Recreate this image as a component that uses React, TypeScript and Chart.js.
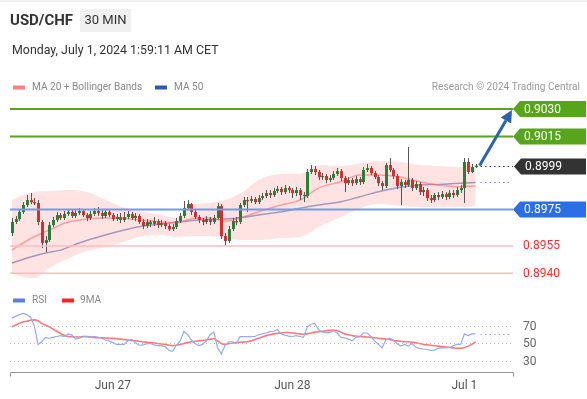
import React, { useEffect, useRef } from "react";
import { Chart, registerables } from "chart.js";
Chart.register(...registerables);

const TITLE = "USD/CHF";
const TIMEFRAME = "30 MIN";
const DATE_TEXT = "Monday, July 1, 2024 1:59:11 AM CET";
const SOURCE = "Research © 2024 Trading Central";
const LEGEND_TOP = ["MA 20 + Bollinger Bands", "MA 50"];
const LEGEND_RSI = ["RSI", "9MA"];

const OPEN = [0.8962,0.89681,0.89697,0.89736,0.89774,0.89801,0.8979,0.89785,0.89681,0.89566,0.89582,0.89664,0.89692,0.89719,0.89703,0.89725,0.89736,0.89714,0.8973,0.89741,0.89719,0.89703,0.89725,0.89741,0.8973,0.89714,0.89736,0.89719,0.89697,0.89708,0.89692,0.89708,0.89725,0.89703,0.89714,0.89681,0.89659,0.89681,0.8967,0.89686,0.89664,0.89675,0.89659,0.89642,0.89653,0.89686,0.89714,0.89757,0.89779,0.89736,0.89708,0.89692,0.89681,0.89697,0.89681,0.89703,0.89768,0.89604,0.89577,0.89642,0.89686,0.89681,0.89774,0.89801,0.89796,0.89807,0.8979,0.89812,0.89823,0.8984,0.89829,0.89851,0.89862,0.89845,0.89867,0.89856,0.8984,0.89856,0.89829,0.89823,0.89955,0.89971,0.89955,0.89927,0.89933,0.89911,0.89922,0.89944,0.8996,0.89922,0.89894,0.89911,0.89894,0.89916,0.899,0.89966,0.89977,0.89949,0.89927,0.89894,0.89878,0.89993,0.89966,0.89933,0.89878,0.899,0.89884,0.89911,0.89867,0.89889,0.89845,0.89856,0.89812,0.89801,0.89829,0.89818,0.89834,0.89818,0.8984,0.89829,0.89856,0.89867,0.9001,0.89955,0.89982];
const HIGH = [0.89703,0.89714,0.89752,0.8979,0.89829,0.8984,0.89812,0.89801,0.89692,0.89604,0.89681,0.89708,0.89736,0.8973,0.89741,0.89752,0.89747,0.89747,0.89757,0.89752,0.8973,0.89741,0.89757,0.89763,0.89747,0.89752,0.89747,0.8973,0.89725,0.8973,0.89736,0.89741,0.89736,0.8973,0.89725,0.89697,0.89697,0.89692,0.89708,0.89697,0.89692,0.89686,0.8967,0.8967,0.89703,0.8973,0.89796,0.89801,0.89785,0.89747,0.89719,0.89703,0.89714,0.89708,0.89719,0.89785,0.89779,0.8962,0.89659,0.89703,0.89708,0.89785,0.89818,0.89818,0.89823,0.89818,0.89829,0.8984,0.89856,0.89856,0.89867,0.89878,0.89873,0.89884,0.89878,0.89867,0.89873,0.89867,0.89845,0.89971,0.89993,0.89988,0.89966,0.89949,0.89944,0.89938,0.8996,0.89977,0.89971,0.89933,0.89927,0.89922,0.89933,0.89927,0.89982,0.89999,0.89988,0.8996,0.89938,0.89905,0.90004,0.90031,0.89977,0.89944,0.89916,0.89911,0.90092,0.89922,0.89905,0.899,0.89873,0.89867,0.89829,0.8984,0.89845,0.89851,0.89845,0.89856,0.89856,0.89873,0.89884,0.90031,0.90031,0.89999,0.89999];
const LOW = [0.89604,0.8967,0.89686,0.89725,0.89763,0.89779,0.89774,0.89664,0.89538,0.89516,0.89571,0.89653,0.89681,0.89692,0.89692,0.89714,0.89703,0.89703,0.89719,0.89708,0.89686,0.89692,0.89714,0.89714,0.89697,0.89703,0.89708,0.89686,0.89686,0.89675,0.89681,0.89697,0.89692,0.89686,0.8967,0.89642,0.89648,0.89653,0.89659,0.89648,0.89653,0.89642,0.89631,0.89631,0.89642,0.89675,0.89703,0.89747,0.89719,0.89697,0.89675,0.89664,0.8967,0.89664,0.8967,0.89697,0.89588,0.89549,0.89566,0.89631,0.89664,0.8967,0.89763,0.89736,0.89785,0.89779,0.89779,0.89801,0.89812,0.89812,0.89818,0.8984,0.89829,0.89834,0.8984,0.89812,0.89823,0.89801,0.8979,0.89812,0.89944,0.89938,0.89911,0.89911,0.89894,0.899,0.89911,0.89933,0.89905,0.89845,0.89884,0.89878,0.89884,0.89884,0.89889,0.89955,0.89938,0.89916,0.89878,0.89856,0.89867,0.89955,0.89916,0.89862,0.89774,0.89867,0.89873,0.89851,0.89856,0.89829,0.89823,0.89796,0.89785,0.8979,0.89801,0.89807,0.89801,0.89807,0.89812,0.89818,0.8984,0.89785,0.89944,0.89949,0.89977];
const CLOSE = [0.89681,0.89697,0.89736,0.89774,0.89801,0.8979,0.89785,0.89681,0.89566,0.89582,0.89664,0.89692,0.89719,0.89703,0.89725,0.89736,0.89714,0.8973,0.89741,0.89719,0.89703,0.89725,0.89741,0.8973,0.89714,0.89736,0.89719,0.89697,0.89708,0.89692,0.89708,0.89725,0.89703,0.89714,0.89681,0.89659,0.89681,0.8967,0.89686,0.89664,0.89675,0.89659,0.89642,0.89653,0.89686,0.89714,0.89757,0.89779,0.89736,0.89708,0.89692,0.89681,0.89697,0.89681,0.89703,0.89768,0.89604,0.89577,0.89642,0.89686,0.89681,0.89774,0.89801,0.89796,0.89807,0.8979,0.89812,0.89823,0.8984,0.89829,0.89851,0.89862,0.89845,0.89867,0.89856,0.8984,0.89856,0.89829,0.89823,0.89955,0.89971,0.89955,0.89927,0.89933,0.89911,0.89922,0.89944,0.8996,0.89922,0.89894,0.89911,0.89894,0.89916,0.899,0.89966,0.89977,0.89949,0.89927,0.89894,0.89878,0.89993,0.89966,0.89933,0.89878,0.899,0.89884,0.89911,0.89867,0.89889,0.89845,0.89856,0.89812,0.89801,0.89829,0.89818,0.89834,0.89818,0.8984,0.89829,0.89856,0.89867,0.9001,0.89955,0.89982,0.8999];

const MA20_IDX = [0,3,6,9,12,14,18,24,29,34,40,44,48,53,57,61,66,72,77,82,88,93,98,104,109,114,120,124];
const MA20_VAL = [0.89527,0.89566,0.896,0.89628,0.89655,0.89674,0.89692,0.89703,0.89703,0.89692,0.89681,0.89678,0.89697,0.89703,0.89686,0.89703,0.89737,0.89774,0.89801,0.89867,0.89902,0.89938,0.89938,0.89926,0.89902,0.89884,0.89874,0.89878];
const MA50_IDX = [0,5,9,13,18,24,30,34,40,45,50,56,62,66,72,77,82,88,93,98,104,109,114,120,124];
const MA50_VAL = [0.89456,0.89489,0.89511,0.89527,0.89566,0.89604,0.89637,0.89655,0.8967,0.89682,0.89692,0.89696,0.89707,0.89719,0.89737,0.89756,0.89774,0.89792,0.89819,0.89847,0.89871,0.89884,0.89887,0.89893,0.89898];
const BB_IDX = [0,3,6,10,16,21,24,29,34,40,44,48,53,57,62,66,72,77,80,82,88,94,98,104,109,114,120,124];
const BB_UPPER = [0.89801,0.89829,0.89845,0.89851,0.89856,0.8984,0.89812,0.89768,0.89741,0.89719,0.89703,0.89774,0.89785,0.89801,0.8985,0.89911,0.89944,0.89944,0.89977,0.89993,0.89988,0.90004,0.90015,0.9001,0.89993,0.89988,0.89982,0.89993];
const BB_LOWER = [0.89401,0.89379,0.89374,0.89429,0.89489,0.89527,0.89538,0.89566,0.89599,0.8961,0.89599,0.89604,0.89604,0.89593,0.89582,0.89582,0.89593,0.89599,0.89626,0.89653,0.89708,0.89763,0.89779,0.89768,0.89763,0.89763,0.89763,0.89768];

const RSI = [79,81,83,84.5,83,80,70,49,52,57,56,57,58,59,58,61,60,55,56,58,58,57,58,57,56,54,53,51,49,49,49,53,55,51,48,48.5,49.5,50,48.5,47.5,47.5,46.5,42,41,48,53,64,60,54,50,47.5,49,53,60,63,45,38,48,52,52,50,57.8,57.8,57.5,57.8,58,60,61,62,63.5,64,66,61,59.5,58.5,58,59,58,57,69,72,73,66,63,62.5,62.5,64.5,62,57,56.5,55,53,57,57.8,62,62,58,53,49,45,54,56,54,50,47,49,47,50,46,44.5,43.7,43.3,42,42.5,44.5,45.2,45,45.5,47.5,49,49,61,59,61,61];
const RSI_MA = [69,71,73,74.5,75.5,76.5,77,76,73,71,69,66.5,64,61.5,59.5,58,57.8,57.5,57.5,57.8,57.8,57.5,57,56.7,56.5,56.3,56,55.8,55.5,55,54.5,54,53.5,53,52.5,52,51.5,51,50.5,50,49.5,49,48,47.5,48,49,50,51,52,52.5,53,53.5,54,55,55.5,53,50,49,50,50.5,51,51.4,51.7,52,53,54.5,56,57.5,59,60,61,61.6,62,62.5,62.5,62,61.5,61,60.5,61,62,63,63.5,64,64.5,65,65.4,64.5,63,61,60,59,58.5,58,57.8,57.5,57,56.5,56,55.5,55,54.5,53.5,53,52.5,52,52,51.5,51,50,49,48.5,48,47.5,47,46.4,46,45.5,45,44.5,44.5,45.5,47,49,52];
const RSI_LEVELS = [70, 50, 30];

const DATE_LABELS = ["Jun 27", "Jun 28", "Jul 1"];
const DATE_INDEX = [27, 75, 121];

const RESIST = [0.903, 0.9015];
const SUPPORT_PIVOT = 0.8975;
const SUPPORT = [0.8955, 0.894];
const LAST_PRICE = 0.8999;
const TARGET = 0.903;

const X_RANGE = [-0.5, 134];
const PRICE_RANGE = [0.88848, 0.90377];
const RSI_RANGE = [15.14, 334];

const FONT = 'Roboto, "Liberation Sans", Arial, sans-serif';

function fmt(v: number) {
  return v.toFixed(4);
}

function notchBox(ctx: CanvasRenderingContext2D, xTip: number, y: number, right: number, h: number, color: string) {
  const n = 7;
  ctx.beginPath();
  ctx.moveTo(xTip, y);
  ctx.lineTo(xTip + n, y - h / 2);
  ctx.lineTo(right, y - h / 2);
  ctx.lineTo(right, y + h / 2);
  ctx.lineTo(xTip + n, y + h / 2);
  ctx.closePath();
  ctx.fillStyle = color;
  ctx.fill();
}

const candlePlugin = {
  id: "candles",
  afterDatasetsDraw(chart: any) {
    const ctx: CanvasRenderingContext2D = chart.ctx;
    const xs = chart.scales.x;
    const ys = chart.scales.y;
    const a = chart.chartArea;
    ctx.save();
    ctx.beginPath();
    ctx.rect(a.left, a.top, a.right - a.left, a.bottom - a.top);
    ctx.clip();
    for (let i = 0; i < CLOSE.length; i++) {
      const x = Math.round(xs.getPixelForValue(i));
      const yo = ys.getPixelForValue(OPEN[i]);
      const yc = ys.getPixelForValue(CLOSE[i]);
      const yh = ys.getPixelForValue(HIGH[i]);
      const yl = ys.getPixelForValue(LOW[i]);
      ctx.strokeStyle = "#555";
      ctx.lineWidth = 1;
      ctx.beginPath();
      ctx.moveTo(x + 0.5, yh);
      ctx.lineTo(x + 0.5, yl);
      ctx.stroke();
      const up = CLOSE[i] >= OPEN[i];
      ctx.fillStyle = up ? "#2e7d32" : "#d32f2f";
      const top = Math.min(yo, yc);
      const h = Math.max(1.2, Math.abs(yc - yo));
      ctx.fillRect(x - 1, top, 3, h);
    }
    ctx.restore();
  },
};

const overlayPlugin = {
  id: "overlay",
  afterDraw(chart: any) {
    const ctx: CanvasRenderingContext2D = chart.ctx;
    const xs = chart.scales.x;
    const ys = chart.scales.y;
    const rs = chart.scales.yRsi;
    const a = chart.chartArea;
    const L = a.left;
    const R = a.right;
    const boxRight = 586;
    const boxH = 16;
    const lastX = xs.getPixelForValue(CLOSE.length - 1) + 3;
    ctx.save();
    ctx.textBaseline = "middle";

    // faint top rule
    ctx.fillStyle = "#f0f0f0";
    ctx.fillRect(0, 0, 587, 2);

    // header
    ctx.fillStyle = "#333";
    ctx.font = `bold 15px ${FONT}`;
    ctx.textAlign = "left";
    ctx.fillText(TITLE, 10, 21);
    ctx.fillStyle = "#f0f0f0";
    ctx.fillRect(80, 9, 51, 23);
    ctx.fillStyle = "#333";
    ctx.font = `13px ${FONT}`;
    ctx.textAlign = "center";
    ctx.fillText(TIMEFRAME, 105.5, 21);
    ctx.textAlign = "left";
    ctx.font = `12.4px ${FONT}`;
    ctx.fillText(DATE_TEXT, 12, 50.5);

    // legends
    ctx.font = `10.1px ${FONT}`;
    ctx.fillStyle = "#ff8080";
    ctx.fillRect(13, 85.5, 12, 4);
    ctx.fillStyle = "#888";
    ctx.fillText(LEGEND_TOP[0], 32, 87.5);
    ctx.fillStyle = "#2f5aa8";
    ctx.fillRect(155, 85.5, 12, 4);
    ctx.fillStyle = "#888";
    ctx.fillText(LEGEND_TOP[1], 174, 87.5);
    ctx.textAlign = "right";
    ctx.fillStyle = "#9a9a9a";
    ctx.fillText(SOURCE, 580, 87.5);
    ctx.textAlign = "left";
    ctx.fillStyle = "#5b80e0";
    ctx.fillRect(13, 298.5, 12, 4);
    ctx.fillStyle = "#888";
    ctx.fillText(LEGEND_RSI[0], 32, 300.5);
    ctx.fillStyle = "#ff2020";
    ctx.fillRect(62, 298.5, 12, 4);
    ctx.fillStyle = "#888";
    ctx.fillText(LEGEND_RSI[1], 80, 300.5);

    // resistance levels
    ctx.font = `12px ${FONT}`;
    RESIST.forEach((v) => {
      const y = ys.getPixelForValue(v);
      ctx.strokeStyle = "#57a51b";
      ctx.lineWidth = 2;
      ctx.beginPath();
      ctx.moveTo(L, y);
      ctx.lineTo(R, y);
      ctx.stroke();
      notchBox(ctx, R, y, boxRight, boxH, "#57a51b");
      ctx.fillStyle = "#fff";
      ctx.fillText(fmt(v), R + 11, y + 0.5);
    });

    // pivot support
    {
      const y = ys.getPixelForValue(SUPPORT_PIVOT);
      ctx.strokeStyle = "#6d9cf2";
      ctx.lineWidth = 2;
      ctx.beginPath();
      ctx.moveTo(L, y);
      ctx.lineTo(R, y);
      ctx.stroke();
      notchBox(ctx, R, y, boxRight, boxH, "#2b6fe6");
      ctx.fillStyle = "#fff";
      ctx.fillText(fmt(SUPPORT_PIVOT), R + 11, y + 0.5);
    }

    // supports
    SUPPORT.forEach((v) => {
      const y = ys.getPixelForValue(v);
      ctx.strokeStyle = "#ffbcbc";
      ctx.lineWidth = 1.5;
      ctx.beginPath();
      ctx.moveTo(L, y);
      ctx.lineTo(R, y);
      ctx.stroke();
      ctx.fillStyle = "#ff2d2d";
      ctx.fillText(fmt(v), R + 10, y + 0.5);
    });

    // last price
    {
      const y = Math.round(ys.getPixelForValue(LAST_PRICE)) + 0.5;
      ctx.setLineDash([1.5, 3]);
      ctx.strokeStyle = "#333";
      ctx.lineWidth = 1;
      ctx.beginPath();
      ctx.moveTo(lastX + 2, y);
      ctx.lineTo(R, y);
      ctx.stroke();
      ctx.setLineDash([]);
      notchBox(ctx, R + 1, y, boxRight, boxH, "#333");
      ctx.fillStyle = "#fff";
      ctx.fillText(fmt(LAST_PRICE), R + 12, y + 0.5);
    }

    // MA50 extension
    {
      const y = Math.round(ys.getPixelForValue(MA50_VAL[MA50_VAL.length - 1])) + 0.5;
      ctx.setLineDash([1.5, 3]);
      ctx.strokeStyle = "#6d8fdc";
      ctx.beginPath();
      ctx.moveTo(lastX + 2, y);
      ctx.lineTo(R - 1, y);
      ctx.stroke();
      ctx.setLineDash([]);
    }

    // arrow
    {
      const x0 = lastX + 1;
      const y0 = ys.getPixelForValue(LAST_PRICE);
      const x1 = R - 1;
      const y1 = ys.getPixelForValue(TARGET) + 1;
      const dx = x1 - x0;
      const dy = y1 - y0;
      const len = Math.hypot(dx, dy);
      const ux = dx / len;
      const uy = dy / len;
      const hl = 12;
      const hw = 6;
      const bx = x1 - ux * hl;
      const by = y1 - uy * hl;
      ctx.strokeStyle = "#2c63ad";
      ctx.fillStyle = "#2c63ad";
      ctx.lineWidth = 3;
      ctx.beginPath();
      ctx.moveTo(x0, y0);
      ctx.lineTo(bx, by);
      ctx.stroke();
      ctx.beginPath();
      ctx.moveTo(x1, y1);
      ctx.lineTo(bx - uy * hw, by + ux * hw);
      ctx.lineTo(bx + uy * hw, by - ux * hw);
      ctx.closePath();
      ctx.fill();
    }

    // RSI levels
    ctx.lineWidth = 1;
    RSI_LEVELS.forEach((v) => {
      const y = Math.round(rs.getPixelForValue(v)) + 0.5;
      ctx.setLineDash([1, 3]);
      ctx.strokeStyle = "#bdbdbd";
      ctx.beginPath();
      ctx.moveTo(L, y);
      ctx.lineTo(R, y);
      ctx.stroke();
      ctx.setLineDash([]);
      ctx.fillStyle = "#666";
      ctx.fillText(String(v), R + 10, y);
    });
    {
      const y = Math.round(rs.getPixelForValue(RSI[RSI.length - 1])) + 0.5;
      ctx.setLineDash([1.5, 3]);
      ctx.strokeStyle = "#8ea8f0";
      ctx.beginPath();
      ctx.moveTo(lastX + 2, y);
      ctx.lineTo(R - 1, y);
      ctx.stroke();
      ctx.setLineDash([]);
    }

    // x axis
    const ay = a.bottom - 1.5;
    ctx.strokeStyle = "#999";
    ctx.lineWidth = 1;
    ctx.beginPath();
    ctx.moveTo(L + 0.5, ay + 4);
    ctx.lineTo(L + 0.5, ay);
    ctx.lineTo(R + 0.5, ay);
    ctx.lineTo(R + 0.5, ay + 4);
    ctx.stroke();
    ctx.fillStyle = "#555";
    ctx.textAlign = "center";
    DATE_LABELS.forEach((lab, i) => {
      ctx.fillText(lab, xs.getPixelForValue(DATE_INDEX[i]), 385.5);
    });
    ctx.restore();
  },
};

export default function App() {
  const ref = useRef<HTMLCanvasElement | null>(null);
  useEffect(() => {
    document.body.style.margin = "0";
    const canvas = ref.current!;
    const pts = (idx: number[], vals: number[]) => idx.map((x, i) => ({ x, y: vals[i] }));
    const chart = new Chart(canvas, {
      type: "line",
      data: {
        datasets: [
          {
            data: pts(BB_IDX, BB_UPPER),
            yAxisID: "y",
            borderWidth: 0,
            borderColor: "rgba(0,0,0,0)",
            pointRadius: 0,
            fill: "+1",
            backgroundColor: "rgba(255,110,110,0.2)",
            cubicInterpolationMode: "monotone",
          },
          {
            data: pts(BB_IDX, BB_LOWER),
            yAxisID: "y",
            borderWidth: 0,
            borderColor: "rgba(0,0,0,0)",
            pointRadius: 0,
            fill: false,
            cubicInterpolationMode: "monotone",
          },
          {
            data: pts(MA20_IDX, MA20_VAL),
            yAxisID: "y",
            borderWidth: 1.5,
            borderColor: "rgba(255,110,110,0.6)",
            pointRadius: 0,
            fill: false,
            cubicInterpolationMode: "monotone",
          },
          {
            data: pts(MA50_IDX, MA50_VAL),
            yAxisID: "y",
            borderWidth: 1.5,
            borderColor: "#8ea3d2",
            pointRadius: 0,
            fill: false,
            cubicInterpolationMode: "monotone",
          },
          {
            data: RSI.map((v, i) => ({ x: i, y: v })),
            yAxisID: "yRsi",
            borderWidth: 1.2,
            borderColor: "#93abf2",
            pointRadius: 0,
            fill: false,
            tension: 0,
          },
          {
            data: RSI_MA.map((v, i) => ({ x: i, y: v })),
            yAxisID: "yRsi",
            borderWidth: 1.6,
            borderColor: "rgba(255,85,85,0.8)",
            pointRadius: 0,
            fill: false,
            cubicInterpolationMode: "monotone",
          },
        ],
      },
      options: {
        animation: false,
        responsive: false,
        devicePixelRatio: 1,
        layout: { padding: { left: 10, right: 74, top: 95, bottom: 25 } },
        plugins: { legend: { display: false }, tooltip: { enabled: false } },
        scales: {
          x: { type: "linear", axis: "x", min: X_RANGE[0], max: X_RANGE[1], display: false },
          y: { type: "linear", axis: "y", min: PRICE_RANGE[0], max: PRICE_RANGE[1], display: false },
          yRsi: { type: "linear", axis: "y", min: RSI_RANGE[0], max: RSI_RANGE[1], display: false },
        },
      },
      plugins: [candlePlugin, overlayPlugin],
    });
    return () => chart.destroy();
  }, []);
  return (
    <div style={{ position: "fixed", left: 0, top: 0, width: 587, height: 399, background: "#fff" }}>
      <canvas ref={ref} width={587} height={399} style={{ width: 587, height: 399, display: "block" }} />
    </div>
  );
}
